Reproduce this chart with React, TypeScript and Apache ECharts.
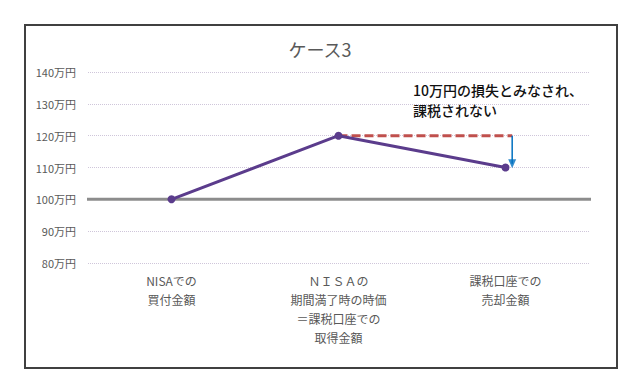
import React, { useEffect, useRef } from "react";
import * as echarts from "echarts";

const categories = [
  "NISAでの\n買付金額",
  "ＮＩＳＡの\n期間満了時の時価\n＝課税口座での\n取得金額",
  "課税口座での\n売却金額",
];
const values = [100, 120, 110];
const yTicks = { min: 80, max: 140, interval: 10 };
const baselineLine = [
  [-0.006, 100],
  [3.036, 100],
];
const dashedLine = [
  [1.5, 120],
  [2.54, 120],
];
const arrowLine = [
  [2.54, 120],
  [2.54, 111.2],
];
const title = "ケース3";
const noteLines = ["10万円の損失とみなされ、", "課税されない"];

const FONT = "'Noto Sans CJK JP', 'Noto Sans', sans-serif";

export default function App() {
  const ref = useRef<HTMLDivElement>(null);
  useEffect(() => {
    if (!ref.current) return;
    const chart = echarts.init(ref.current, undefined, { renderer: "svg" });
    chart.setOption({
      animation: false,
      backgroundColor: "#ffffff",
      textStyle: { fontFamily: FONT },
      title: {
        text: title,
        left: "center",
        top: 35,
        textStyle: { fontFamily: FONT, fontSize: 18, fontWeight: "normal", color: "#595959" },
      },
      grid: { left: 88, right: 51, top: 72, bottom: 123 },
      xAxis: [
        {
          type: "category",
          data: categories,
          boundaryGap: true,
          axisLine: { show: false },
          axisTick: { show: false },
          axisLabel: {
            color: "#595959",
            fontSize: 12,
            lineHeight: 19,
            margin: 8,
            interval: 0,
            fontFamily: FONT,
          },
        },
        {
          type: "value",
          min: 0,
          max: 3,
          show: false,
        },
      ],
      yAxis: {
        type: "value",
        min: yTicks.min,
        max: yTicks.max,
        interval: yTicks.interval,
        axisLine: { show: false },
        axisTick: { show: false },
        axisLabel: {
          formatter: (v: number) => `${v}万円`,
          color: "#595959",
          fontSize: 11,
          margin: 12,
          fontFamily: FONT,
        },
        splitLine: { lineStyle: { color: "#cfc6da", type: "dotted", width: 1 } },
      },
      series: [
        {
          type: "line",
          xAxisIndex: 1,
          data: baselineLine,
          symbol: "none",
          clip: false,
          silent: true,
          lineStyle: { color: "#8c8c8c", width: 3 },
          z: 2,
        },
        {
          type: "line",
          xAxisIndex: 1,
          data: dashedLine,
          symbol: "none",
          lineStyle: { color: "#c0504d", width: 3, type: [9, 4] },
          z: 3,
        },
        {
          type: "line",
          xAxisIndex: 1,
          data: arrowLine,
          symbol: "none",
          lineStyle: { color: "#0070c0", width: 1.5 },
          z: 4,
        },
        {
          type: "scatter",
          xAxisIndex: 1,
          data: [arrowLine[1]],
          symbol: "triangle",
          symbolRotate: 180,
          symbolSize: [8, 9],
          itemStyle: { color: "#0070c0" },
          z: 4,
        },
        {
          type: "line",
          data: values,
          symbol: "circle",
          symbolSize: 8,
          lineStyle: { color: "#5b3c8c", width: 3 },
          itemStyle: { color: "#5b3c8c" },
          z: 5,
        },
      ],
      graphic: [
        {
          type: "rect",
          shape: { x: 25, y: 25, width: 592, height: 343 },
          style: { fill: "none", stroke: "#404040", lineWidth: 2 },
          silent: true,
        },
        {
          type: "text",
          x: 413,
          y: 80,
          style: {
            text: noteLines.join("\n"),
            fill: "#111111",
            font: `500 14px ${FONT}`,
            lineHeight: 20,
          },
          z: 10,
        },
      ],
    });
    return () => chart.dispose();
  }, []);
  return (
    <div
      ref={ref}
      style={{ position: "absolute", left: 0, top: 0, width: 640, height: 386 }}
    />
  );
}
